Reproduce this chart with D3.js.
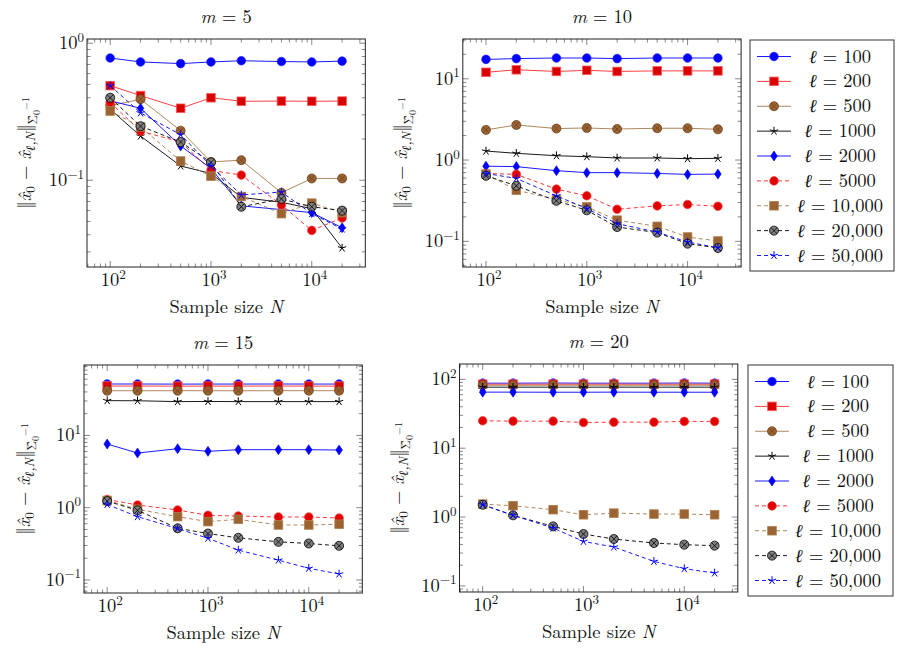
<!DOCTYPE html>
<html><head><meta charset="utf-8">
<script src="https://cdn.jsdelivr.net/npm/d3@7"></script>
<style>body{margin:0;background:#fff}svg{display:block}</style>
</head><body>
<script>
// ---------- DATA ----------
const sampleSizes = [100, 200, 500, 1000, 2000, 5000, 10000, 20000];
const ellLabels = ["100", "200", "500", "1000", "2000", "5000", "10,000", "20,000", "50,000"];
const mValues = ["5", "10", "15", "20"];
const xTickValues = [100, 1000, 10000];

// m = 5 (rows follow ellLabels)
const m5Values = [
  [0.78, 0.73, 0.71, 0.73, 0.745, 0.735, 0.73, 0.74],
  [0.49, 0.415, 0.335, 0.40, 0.377, 0.378, 0.377, 0.378],
  [0.35, 0.39, 0.23, 0.136, 0.14, 0.081, 0.103, 0.103],
  [0.33, 0.21, 0.127, 0.112, 0.075, 0.069, 0.062, 0.032],
  [0.38, 0.335, 0.178, 0.122, 0.065, 0.061, 0.058, 0.045],
  [0.37, 0.228, 0.19, 0.118, 0.109, 0.066, 0.043, 0.053],
  [0.32, 0.245, 0.138, 0.107, 0.076, 0.057, 0.068, 0.058],
  [0.40, 0.248, 0.19, 0.135, 0.064, 0.073, 0.064, 0.060],
  [0.49, 0.31, 0.215, 0.127, 0.078, 0.082, 0.057, 0.044]
];
// m = 10
const m10Values = [
  [17.3, 17.7, 18.0, 18.0, 17.7, 18.0, 18.0, 18.0],
  [12.0, 12.9, 12.3, 12.7, 12.3, 12.5, 12.5, 12.5],
  [2.35, 2.70, 2.44, 2.48, 2.41, 2.46, 2.46, 2.39],
  [1.29, 1.21, 1.13, 1.10, 1.06, 1.06, 1.04, 1.05],
  [0.84, 0.83, 0.74, 0.70, 0.70, 0.684, 0.666, 0.672],
  [0.684, 0.666, 0.439, 0.363, 0.248, 0.273, 0.284, 0.27],
  [0.672, 0.426, 0.327, 0.265, 0.182, 0.153, 0.113, 0.101],
  [0.64, 0.482, 0.315, 0.241, 0.150, 0.128, 0.0936, 0.0828],
  [0.684, 0.594, 0.363, 0.253, 0.165, 0.130, 0.098, 0.0835]
];
// m = 15
const m15Values = [
  [51.5, 51.5, 51.3, 51.4, 51.4, 51.5, 51.4, 51.4],
  [48.2, 48.3, 48.1, 48.2, 48.2, 48.3, 48.2, 48.2],
  [41.6, 41.5, 41.6, 41.6, 41.5, 41.6, 41.6, 41.6],
  [30.3, 30.2, 29.4, 29.5, 29.4, 29.4, 29.4, 29.4],
  [7.6, 5.71, 6.55, 6.03, 6.35, 6.35, 6.35, 6.28],
  [1.30, 1.09, 0.93, 0.784, 0.768, 0.744, 0.744, 0.72],
  [1.26, 0.95, 0.752, 0.642, 0.691, 0.577, 0.577, 0.59],
  [1.235, 0.919, 0.52, 0.439, 0.383, 0.337, 0.32, 0.297],
  [1.11, 0.752, 0.514, 0.378, 0.259, 0.188, 0.145, 0.121]
];
// m = 20
const m20Values = [
  [88, 88, 88.5, 88, 88, 88, 88.5, 88],
  [85, 85, 85, 85, 85, 85, 85, 85],
  [82, 82, 82, 82, 82, 82, 82, 82],
  [77, 77, 77, 77, 77, 77, 77, 77],
  [65.2, 65.2, 65.0, 65.0, 65.2, 65.0, 65.0, 65.0],
  [25.0, 24.7, 24.7, 23.6, 23.9, 23.9, 24.5, 24.5],
  [1.54, 1.46, 1.28, 1.08, 1.14, 1.105, 1.105, 1.08],
  [1.51, 1.06, 0.732, 0.567, 0.48, 0.42, 0.397, 0.384],
  [1.51, 1.06, 0.692, 0.443, 0.367, 0.227, 0.178, 0.154]
];

// ---------- STYLES ----------
const FONT = '"Latin Modern Roman", "CMU Serif", "Liberation Serif", serif';
const FS = 18.5, FS_SUB = 13;
const BROWN_LINE = "#a67a4c", BROWN_FILL = "#9a6331";
const seriesStyles = [
  {line: "#0000ff", dash: null, marker: "circle", fill: "#0000ff", mstroke: "#2020ff"},
  {line: "#ff2a2a", dash: null, marker: "square", fill: "#d80000", mstroke: "#ff5a5a"},
  {line: BROWN_LINE, dash: null, marker: "otimes", fill: BROWN_FILL, mstroke: "#6e4420"},
  {line: "#000000", dash: null, marker: "star", fill: "none", mstroke: "#000000"},
  {line: "#0000ff", dash: null, marker: "diamond", fill: "#0000ff", mstroke: "#0000ff"},
  {line: "#ff2020", dash: "4,3", marker: "circle", fill: "#e00000", mstroke: "#ff4040"},
  {line: BROWN_LINE, dash: "4,3", marker: "square", fill: BROWN_FILL, mstroke: "#b08050"},
  {line: "#000000", dash: "4,3", marker: "otimes", fill: "#808080", mstroke: "#000000"},
  {line: "#0000ff", dash: "4,3", marker: "star", fill: "none", mstroke: "#0000ff"}
];

const W = 278.3, H = 228;
const panels = [
  {m: mValues[0], data: m5Values, left: 87, top: 39, labelX: 31, legend: null},
  {m: mValues[1], data: m10Values, left: 462.8, top: 39, labelX: 407, legend: {x: 750, y: 40, w: 144, h: 231}},
  {m: mValues[2], data: m15Values, left: 84, top: 365, labelX: 30, legend: null},
  {m: mValues[3], data: m20Values, left: 459.5, top: 364, labelX: 404, legend: {x: 748, y: 365, w: 145, h: 231}}
];

const svg = d3.select("body").append("svg").attr("width", 902).attr("height", 649);

function txt(g) {
  return g.append("text").style("font-family", FONT).attr("fill", "#111").attr("font-size", FS + "px");
}

function drawMarker(g, type, x, y, st) {
  if (type === "circle") {
    g.append("circle").attr("cx", x).attr("cy", y).attr("r", 4.3)
      .attr("fill", st.fill).attr("stroke", st.mstroke).attr("stroke-width", 0.7);
  } else if (type === "square") {
    g.append("rect").attr("x", x - 4.3).attr("y", y - 4.3).attr("width", 8.6).attr("height", 8.6)
      .attr("fill", st.fill).attr("stroke", st.mstroke).attr("stroke-width", 0.8);
  } else if (type === "otimes") {
    g.append("circle").attr("cx", x).attr("cy", y).attr("r", 4.5)
      .attr("fill", st.fill).attr("stroke", st.mstroke).attr("stroke-width", 0.8);
    const d = 3.1;
    g.append("path").attr("d", `M${x - d},${y - d}L${x + d},${y + d}M${x - d},${y + d}L${x + d},${y - d}`)
      .attr("stroke", st.mstroke).attr("stroke-width", 0.8).attr("fill", "none");
  } else if (type === "star") {
    let p = "";
    for (let k = 0; k < 5; k++) {
      const a = (-90 + 72 * k) * Math.PI / 180;
      p += `M${x},${y}L${x + 4.3 * Math.cos(a)},${y + 4.3 * Math.sin(a)}`;
    }
    g.append("path").attr("d", p).attr("stroke", st.mstroke).attr("stroke-width", 1).attr("fill", "none");
  } else if (type === "diamond") {
    g.append("path").attr("d", `M${x},${y - 5}L${x + 3.3},${y}L${x},${y + 5}L${x - 3.3},${y}Z`)
      .attr("fill", st.fill).attr("stroke", st.mstroke).attr("stroke-width", 0.6);
  }
}

function powLabel(sel, exp) {
  sel.append("tspan").text("10");
  sel.append("tspan").attr("dy", -7.5).attr("font-size", FS_SUB + "px").text(exp < 0 ? "−" + (-exp) : String(exp));
}

function yLabel(g, x, cy) {
  const t = txt(g).attr("transform", `translate(${x},${cy}) rotate(-90)`).attr("text-anchor", "middle");
  t.append("tspan").text("‖");
  t.append("tspan").attr("font-style", "italic").text("x\u0302");
  t.append("tspan").attr("dy", 4).attr("font-size", FS_SUB + "px").text("0");
  t.append("tspan").attr("dy", -4).text(" − ");
  t.append("tspan").attr("font-style", "italic").text("x\u0302");
  t.append("tspan").attr("dy", 4).attr("font-size", FS_SUB + "px").attr("font-style", "italic").text("ℓ,N");
  t.append("tspan").attr("dy", -4).text("‖");
  t.append("tspan").attr("dy", 6).attr("font-size", FS_SUB + "px").text("Σ\u0302");
  t.append("tspan").attr("dy", 3).attr("font-size", "10px").text("0");
  t.append("tspan").attr("dy", -11).attr("font-size", "10px").text("−1");
}

const lx0 = Math.log10(sampleSizes[0]), lx1 = Math.log10(sampleSizes[sampleSizes.length - 1]);
const xDom = [Math.pow(10, lx0 - 0.1 * (lx1 - lx0)), Math.pow(10, lx1 + 0.1 * (lx1 - lx0))];

panels.forEach(p => {
  const all = p.data.flat();
  const ly0 = Math.log10(d3.min(all)), ly1 = Math.log10(d3.max(all));
  const yDom = [Math.pow(10, ly0 - 0.1 * (ly1 - ly0)), Math.pow(10, ly1 + 0.1 * (ly1 - ly0))];
  const x = d3.scaleLog().domain(xDom).range([p.left, p.left + W]);
  const y = d3.scaleLog().domain(yDom).range([p.top + H, p.top]);
  const g = svg.append("g");

  // ticks (inside, all four sides)
  const tickG = g.append("g").attr("stroke", "#555").attr("stroke-width", 0.7);
  const xMinor = [], yMinor = [];
  for (let e = -3; e <= 5; e++) for (let j = 1; j <= 9; j++) {
    const v = j * Math.pow(10, e);
    if (v >= xDom[0] && v <= xDom[1]) xMinor.push([v, j === 1]);
    if (v >= yDom[0] && v <= yDom[1]) yMinor.push([v, j === 1]);
  }
  xMinor.forEach(([v, major]) => {
    const L = major ? 6 : 3.5, xx = x(v);
    tickG.append("line").attr("x1", xx).attr("x2", xx).attr("y1", p.top + H).attr("y2", p.top + H - L);
    tickG.append("line").attr("x1", xx).attr("x2", xx).attr("y1", p.top).attr("y2", p.top + L);
  });
  yMinor.forEach(([v, major]) => {
    const L = major ? 6 : 3.5, yy = y(v);
    tickG.append("line").attr("y1", yy).attr("y2", yy).attr("x1", p.left).attr("x2", p.left + L);
    tickG.append("line").attr("y1", yy).attr("y2", yy).attr("x1", p.left + W).attr("x2", p.left + W - L);
  });

  // tick labels
  xTickValues.forEach(v => {
    const t = txt(g).attr("x", x(v) + 3).attr("y", p.top + H + 19).attr("text-anchor", "middle");
    powLabel(t, Math.round(Math.log10(v)));
  });
  yMinor.filter(d => d[1]).forEach(([v]) => {
    const t = txt(g).attr("x", p.left - 3).attr("y", y(v) + 6).attr("text-anchor", "end");
    powLabel(t, Math.round(Math.log10(v)));
  });

  // series
  const line = d3.line().x((d, i) => x(sampleSizes[i])).y(d => y(d));
  p.data.forEach((vals, si) => {
    const st = seriesStyles[si];
    const sg = g.append("g");
    sg.append("path").attr("d", line(vals)).attr("fill", "none").attr("stroke", st.line)
      .attr("stroke-width", 0.9).attr("stroke-dasharray", st.dash);
    vals.forEach((v, i) => drawMarker(sg, st.marker, x(sampleSizes[i]), y(v), st));
  });

  // frame
  g.append("rect").attr("x", p.left).attr("y", p.top).attr("width", W).attr("height", H)
    .attr("fill", "none").attr("stroke", "#222").attr("stroke-width", 1);

  // title
  const tt = txt(g).attr("x", p.left + W / 2).attr("y", p.top - 16).attr("text-anchor", "middle");
  tt.append("tspan").attr("font-style", "italic").text("m");
  tt.append("tspan").text(" = " + p.m);

  // x label
  const xl = txt(g).attr("x", p.left + W / 2).attr("y", p.top + H + 46).attr("text-anchor", "middle");
  xl.append("tspan").text("Sample size ");
  xl.append("tspan").attr("font-style", "italic").text("N");

  yLabel(g, p.labelX, p.top + H / 2);

  // legend
  if (p.legend) {
    const L = p.legend;
    const lg = g.append("g");
    lg.append("rect").attr("x", L.x).attr("y", L.y).attr("width", L.w).attr("height", L.h)
      .attr("fill", "#fff").attr("stroke", "#333").attr("stroke-width", 1);
    const step = (L.h - 32) / (ellLabels.length - 1);
    ellLabels.forEach((lab, i) => {
      const st = seriesStyles[i];
      const yy = L.y + 16.5 + i * step;
      lg.append("line").attr("x1", L.x + 7).attr("x2", L.x + 41).attr("y1", yy).attr("y2", yy)
        .attr("stroke", st.line).attr("stroke-width", 0.9).attr("stroke-dasharray", st.dash);
      drawMarker(lg, st.marker, L.x + 24, yy, st);
      const t = txt(lg).attr("x", L.x + 90).attr("y", yy + 6).attr("text-anchor", "middle");
      t.append("tspan").attr("font-style", "italic").text("ℓ");
      t.append("tspan").text(" = " + lab);
    });
  }
});
</script>
</body></html>
